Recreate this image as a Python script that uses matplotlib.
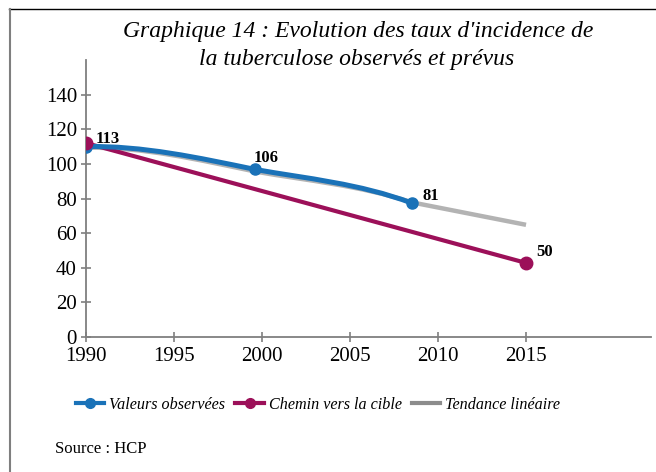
import matplotlib
matplotlib.use("Agg")
import matplotlib.pyplot as plt
from matplotlib.path import Path
from matplotlib.patches import PathPatch
from matplotlib.lines import Line2D

# ---- data ----
obs_years = [1990, 1999.6, 2008.5]
obs_values = [110, 96.8, 77.4]
obs_labels = ["113", "106", "81"]

target_years = [1990, 2015]
target_values = [112, 42.8]
target_labels = ["113", "50"]

trend_years = [1990, 1999.6, 2008.5, 2015]
trend_values = [109.3, 95.6, 77.8, 64.8]

x_ticks = [1990, 1995, 2000, 2005, 2010, 2015]
y_ticks = [0, 20, 40, 60, 80, 100, 120, 140]

title_lines = ["Graphique 14 : Evolution des taux d'incidence de",
               "la tuberculose observés et prévus"]
legend_names = ["Valeurs observées", "Chemin vers la cible", "Tendance linéaire"]
source = "Source : HCP"

BLUE = "#1a72b8"
PINK = "#9c1059"
GRAY = "#b3b3b3"
AXC = "#7f7f7f"

# smoothing tangents (start slope, end slope) of each curve segment (style only)
obs_tangents = [(0.2, -2.1), (-1.8, -3.8)]
trend_tangents = [(0.2, -2.1), (-1.8, -3.3), (-2.0, -2.0)]

plt.rcParams['font.family'] = ['Liberation Serif', 'DejaVu Serif']


def smooth_path(xs, ys, tangents):
    verts = [(xs[0], ys[0])]
    codes = [Path.MOVETO]
    for i in range(len(xs) - 1):
        x0, y0 = xs[i], ys[i]
        x1, y1 = xs[i + 1], ys[i + 1]
        d = (x1 - x0) / 3.0
        s0, s1 = tangents[i]
        verts += [(x0 + d, y0 + s0 * d), (x1 - d, y1 - s1 * d), (x1, y1)]
        codes += [Path.CURVE4] * 3
    return Path(verts, codes)


fig = plt.figure(figsize=(6.56, 4.72), dpi=100)
ax = fig.add_axes([86/656, (472-337)/472, (651-86)/656, (337-60)/472])
ax.set_xlim(1990, 2022.1)
ax.set_ylim(0, 160)

# trend line
ax.add_patch(PathPatch(smooth_path(trend_years, trend_values, trend_tangents),
                       facecolor='none', edgecolor=GRAY, lw=3.2, capstyle='butt', zorder=2))

# target path
ax.plot(target_years, target_values, color=PINK, lw=3.0, zorder=3)

# smoothed observed line
ax.add_patch(PathPatch(smooth_path(obs_years, obs_values, obs_tangents),
                       facecolor='none', edgecolor=BLUE, lw=3.6, capstyle='round', zorder=4))
ax.plot(obs_years, obs_values, 'o', color=BLUE, ms=8, zorder=5)

ax.plot(target_years, target_values, 'o', color=PINK, ms=9, zorder=6)

# data labels
lab_font = dict(fontsize=12, fontweight='bold', color='black', zorder=7)
ax.annotate(target_labels[0], (target_years[0], target_values[0]), xytext=(7, 3),
            textcoords='offset points', ha='left', va='center', **lab_font)
ax.annotate(obs_labels[1], (obs_years[1], obs_values[1]), xytext=(-1, 8),
            textcoords='offset points', ha='left', va='center', **lab_font)
ax.annotate(obs_labels[2], (obs_years[2], obs_values[2]), xytext=(8, 5),
            textcoords='offset points', ha='left', va='center', **lab_font)
ax.annotate(target_labels[1], (target_years[1], target_values[1]), xytext=(7, 8),
            textcoords='offset points', ha='left', va='center', **lab_font)

# axes styling
for s in ['top', 'right']:
    ax.spines[s].set_visible(False)
for s in ['left', 'bottom']:
    ax.spines[s].set_color(AXC)
    ax.spines[s].set_linewidth(1.3)
ax.set_xticks(x_ticks)
ax.set_yticks(y_ticks)
ax.set_xticklabels([str(v) for v in x_ticks])
ax.set_yticklabels([str(v) for v in y_ticks])
ax.tick_params(axis='both', direction='inout', length=7, width=1.2, color=AXC,
               labelsize=15)
ax.tick_params(axis='y', pad=3)
ax.tick_params(axis='x', pad=4)

# title
fig.text(358.5/656, 1 - 31/472, title_lines[0], ha='center', va='center',
         fontsize=17, style='italic')
fig.text(357/656, 1 - 60/472, title_lines[1], ha='center', va='center',
         fontsize=17, style='italic')

# legend
handles = [
    Line2D([], [], color=BLUE, lw=3, marker='o', ms=7),
    Line2D([], [], color=PINK, lw=3, marker='o', ms=7),
    Line2D([], [], color="#8c8c8c", lw=3),
]
leg = fig.legend(handles, legend_names, loc='center', bbox_to_anchor=(318/656, 1 - 405/472),
                 ncol=3, frameon=False, prop={'style': 'italic', 'size': 11.6},
                 handlelength=1.75, handletextpad=0.3, columnspacing=0.65,
                 borderpad=0, borderaxespad=0)

fig.text(55/656, 1 - 449/472, source, ha='left', va='center', fontsize=12)

# outer frame lines
fig.add_artist(Line2D([9/656, 1], [1 - 9/472, 1 - 9/472], color='black', lw=1.0,
                      transform=fig.transFigure))
fig.add_artist(Line2D([10/656, 10/656], [0, 1 - 9/472], color=AXC, lw=1.5,
                      transform=fig.transFigure))

fig.savefig("out.png", dpi=100)
